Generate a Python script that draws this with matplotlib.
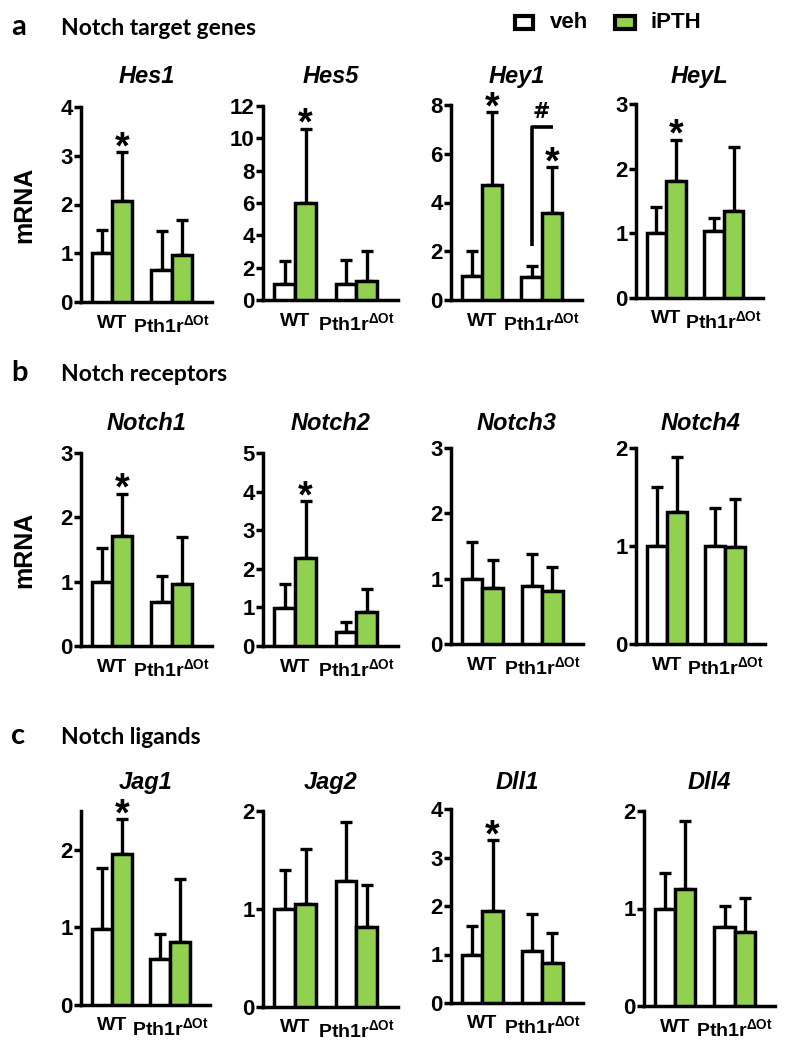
import numpy as np
import matplotlib.pyplot as plt
from matplotlib.patches import Rectangle

plt.rcParams['font.family'] = ['Liberation Sans', 'DejaVu Sans']
plt.rcParams['font.weight'] = 'bold'
plt.rcParams['mathtext.fontset'] = 'custom'
plt.rcParams['mathtext.rm'] = 'Liberation Sans'
plt.rcParams['mathtext.it'] = 'Liberation Sans:italic'
plt.rcParams['mathtext.bf'] = 'Liberation Sans:bold'

groups = ['WT', 'Pth1r$^{\\mathrm{ΔOt}}$']
green = '#92d050'

# mean and SD (upper error) per gene, [WT, Pth1r]
genes = ['Hes1', 'Hes5', 'Hey1', 'HeyL',
         'Notch1', 'Notch2', 'Notch3', 'Notch4',
         'Jag1', 'Jag2', 'Dll1', 'Dll4']
veh_mean = [[1.00, 0.66], [1.00, 1.00], [1.00, 0.95], [1.00, 1.03],
            [1.00, 0.68], [0.98, 0.37], [1.00, 0.89], [1.00, 1.00],
            [0.98, 0.59], [1.00, 1.29], [0.98, 1.07], [1.00, 0.81]]
veh_sd = [[0.47, 0.79], [1.40, 1.45], [1.00, 0.45], [0.40, 0.20],
          [0.52, 0.41], [0.62, 0.26], [0.56, 0.48], [0.60, 0.39],
          [0.79, 0.32], [0.40, 0.60], [0.60, 0.77], [0.36, 0.22]]
pth_mean = [[2.07, 0.96], [6.00, 1.18], [4.72, 3.56], [1.81, 1.34],
            [1.71, 0.97], [2.28, 0.87], [0.86, 0.81], [1.35, 0.99],
            [1.95, 0.81], [1.05, 0.82], [1.89, 0.83], [1.20, 0.76]]
pth_sd = [[1.01, 0.72], [4.60, 1.87], [2.98, 1.89], [0.64, 1.00],
          [0.66, 0.72], [1.48, 0.60], [0.43, 0.37], [0.56, 0.49],
          [0.45, 0.82], [0.56, 0.43], [1.47, 0.61], [0.70, 0.35]]
ymax = [4, 12, 8, 3, 3, 5, 3, 2, 2.5, 2, 4, 2]
ystep = [1, 2, 2, 1, 1, 1, 1, 1, 1, 1, 1, 1]
# iPTH bars marked with * : (gene, group index)
stars = [('Hes1', 0), ('Hes5', 0), ('Hey1', 0), ('Hey1', 1), ('HeyL', 0),
         ('Notch1', 0), ('Notch2', 0), ('Jag1', 0), ('Dll1', 0)]
# Hey1 bracket: from Pth1r veh bar to Pth1r iPTH bar
bracket_low, bracket_high = 2.2, 7.1

# axes boxes in pixels: left, right, top, bottom
boxes = [(81, 212, 107, 302), (263, 398, 106, 300), (451, 582, 105, 300), (636, 763, 104, 298),
         (81, 212, 453, 646), (263, 398, 453, 646), (451, 583, 448, 644), (636, 765, 448, 644),
         (81, 210, 811, 1005), (263, 398, 811, 1007), (451, 583, 809, 1003), (644, 775, 811, 1006)]
title_y = [83, 430, 789]

W, H = 788, 1050
fig = plt.figure(figsize=(W / 100, H / 100), dpi=100)

w = 0.34
lw = 2.5
x = np.arange(2)
for i, g in enumerate(genes):
    l, r, t, b = boxes[i]
    ax = fig.add_axes([l / W, 1 - b / H, (r - l) / W, (b - t) / H])
    ax.bar(x - w / 2, veh_mean[i], w, color='white', edgecolor='black', linewidth=lw, zorder=3)
    ax.bar(x + w / 2, pth_mean[i], w, color=green, edgecolor='black', linewidth=lw, zorder=3)
    ax.errorbar(x - w / 2, veh_mean[i], yerr=[[0, 0], veh_sd[i]], fmt='none', ecolor='black',
                elinewidth=2.4, capsize=4, capthick=2.4, zorder=2)
    ax.errorbar(x + w / 2, pth_mean[i], yerr=[[0, 0], pth_sd[i]], fmt='none', ecolor='black',
                elinewidth=2.4, capsize=4, capthick=2.4, zorder=2)
    ax.set_xlim(-0.525, 1.68)
    ax.set_ylim(0, ymax[i])
    ticks = np.arange(0, ymax[i] + 0.01, ystep[i])
    ax.set_yticks(ticks)
    ax.set_yticklabels([f'{v:g}' for v in ticks])
    ax.set_xticks(x)
    ax.set_xticklabels(groups, fontsize=14, fontweight='bold')
    ax.tick_params(axis='x', length=0, pad=9)
    ax.tick_params(axis='y', length=5, width=lw, pad=1, labelsize=16)
    for s in ['top', 'right']:
        ax.spines[s].set_visible(False)
    for s in ['left', 'bottom']:
        ax.spines[s].set_linewidth(lw)
    for sg, gi in stars:
        if sg == g:
            ax.annotate('*', xy=(gi + w / 2, pth_mean[i][gi] + pth_sd[i][gi]),
                        xytext=(0, -4.5), textcoords='offset points',
                        ha='center', va='baseline', fontsize=27, fontweight='bold')
    if g == 'Hey1':
        ax.plot([1 - w / 2, 1 - w / 2, 1 + w / 2 + 0.03],
                [bracket_low, bracket_high, bracket_high], color='black', lw=2.6,
                solid_capstyle='butt', clip_on=False)
        ax.text(1.0, bracket_high + 0.2, '#', ha='center', va='bottom',
                fontsize=15, fontweight='bold', family=['DejaVu Sans'])
    if g in ('Hes1', 'Notch1'):
        ax.set_ylabel('mRNA', fontsize=18, fontweight='bold')
        ax.yaxis.set_label_coords(-0.34, 0.5)
    fig.text((l + r) / 2 / W, 1 - title_y[i // 4] / H, g, ha='center', va='baseline',
             fontsize=17, fontweight='bold', fontstyle='italic')

# panel headings
heads = [('a', 'Notch target genes', 35), ('b', 'Notch receptors', 381), ('c', 'Notch ligands', 744)]
for letter, txt, yb in heads:
    fig.text(11 / W, 1 - yb / H, letter, fontsize=21, fontweight='bold', va='baseline',
             family=['Lato', 'DejaVu Sans'])
    fig.text(61 / W, 1 - yb / H, txt, fontsize=16.5, fontweight='bold', va='baseline',
             family=['Lato', 'DejaVu Sans'])

# legend
for bx, bw, col, lab, tx in [(515, 18, 'white', 'veh', 550), (615, 20, green, 'iPTH', 650)]:
    fig.add_artist(Rectangle((bx / W, 1 - 29 / H), bw / W, 13 / H, facecolor=col,
                             edgecolor='black', linewidth=3, transform=fig.transFigure))
    fig.text(tx / W, 1 - 23 / H, lab, fontsize=16, fontweight='bold', va='center')

fig.savefig('out.png', dpi=100)
